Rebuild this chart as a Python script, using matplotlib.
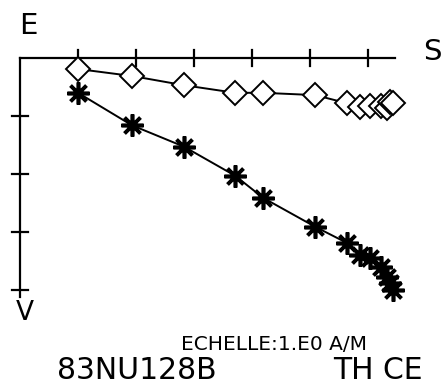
import matplotlib
matplotlib.use('Agg')
import matplotlib.pyplot as plt
import numpy as np

# Zijderveld diagram, sample 83NU128B (unit = 1.E0 A/M per tick)
s_comp = [1.00, 1.93, 2.83, 3.71, 4.19, 5.09, 5.64, 5.86, 6.03, 6.22, 6.33, 6.38, 6.43]
e_comp = [-0.19, -0.31, -0.47, -0.60, -0.60, -0.64, -0.78, -0.84, -0.83, -0.83, -0.86, -0.76, -0.78]
v_comp = [-0.60, -1.16, -1.53, -2.03, -2.41, -2.91, -3.19, -3.40, -3.45, -3.60, -3.78, -3.88, -4.00]

x_ticks = [1, 2, 3, 4, 5, 6]
y_ticks = [-1, -2, -3, -4]
x_end = 6.47
y_end = -4.12

fig = plt.figure(figsize=(4.45, 3.9), dpi=100)
ax = fig.add_axes([0, 0, 1, 1])
ax.set_xlim(-20 / 58, 425 / 58)
ax.set_ylim(-332 / 58, 58 / 58)
ax.axis('off')

lw = 1.6
# axes
ax.plot([0, x_end], [0, 0], color='black', lw=lw)
ax.plot([0, 0], [0, y_end], color='black', lw=lw)
tk = 0.14
for t in x_ticks:
    ax.plot([t, t], [-tk, tk], color='black', lw=lw)
for t in y_ticks:
    ax.plot([-tk, tk], [t, t], color='black', lw=lw)

# horizontal projection (diamonds)
ax.plot(s_comp, e_comp, color='black', lw=1.4, marker='D', markersize=12,
        markerfacecolor='white', markeredgecolor='black', markeredgewidth=1.4)
# vertical projection (asterisks)
ax.plot(s_comp, v_comp, color='black', lw=1.4, marker=(8, 2, 0), markersize=16,
        markeredgecolor='black', markeredgewidth=2.6)

ax.text(8 / 58, 0.56, 'E', fontsize=21, ha='center', va='center')
ax.text(412 / 58, 0.11, 'S', fontsize=21, ha='center', va='center')
ax.text(5 / 58, -255 / 58, 'V', fontsize=19, ha='center', va='center')
ax.text(254 / 58, -292 / 58, "ECHELLE:1.E0 A/M", fontsize=14.5, ha='center', va='baseline')
ax.text(37 / 58, -321 / 58, '83NU128B', fontsize=21.5, ha='left', va='baseline')
ax.text(313 / 58, -321 / 58, 'TH CE', fontsize=21.5, ha='left', va='baseline')

fig.savefig('out.png', dpi=100)
